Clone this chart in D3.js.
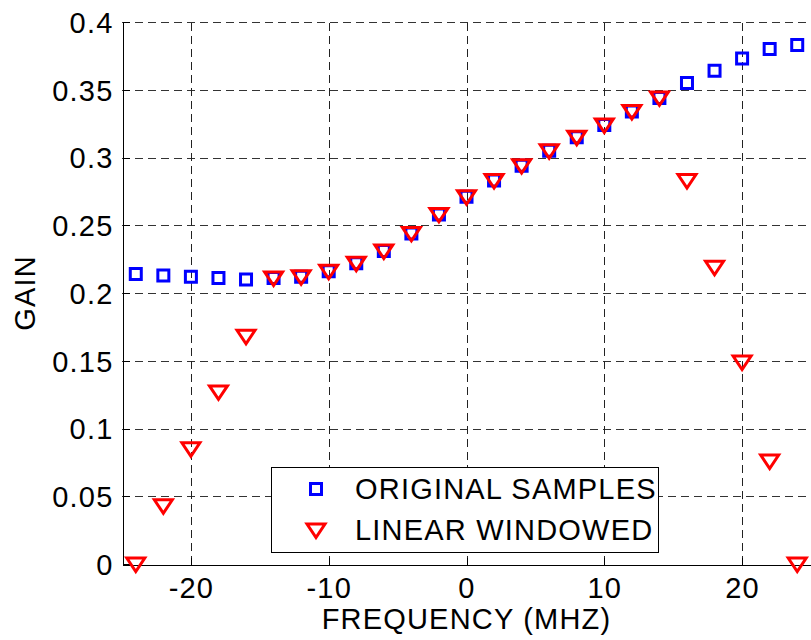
<!DOCTYPE html>
<html>
<head>
<meta charset="utf-8">
<script src="https://cdn.jsdelivr.net/npm/d3@7"></script>
<style>
  body { margin: 0; background: #fff; }
  svg { display: block; }
  text { font-family: "Liberation Sans", Arial, sans-serif; fill: #000; letter-spacing: 1.2px; }
</style>
</head>
<body>
<div id="chart"></div>
<script>
var width = 811, height = 640;
var margin = {top: 22, right: 0, bottom: 76, left: 122};

// frequency samples (MHz)
var freq = [-24, -22, -20, -18, -16, -14, -12, -10, -8, -6, -4, -2, 0,
            2, 4, 6, 8, 10, 12, 14, 16, 18, 20, 22, 24];
// original samples gain
var original = [0.214, 0.213, 0.212, 0.211, 0.210, 0.211, 0.212, 0.216, 0.222, 0.231, 0.244, 0.258, 0.271,
                 0.283, 0.294, 0.305, 0.315, 0.324, 0.334, 0.344, 0.355, 0.364, 0.373, 0.380, 0.383];
// linear windowed gain
var windowed = [0.000, 0.043, 0.085, 0.127, 0.168, 0.211, 0.212, 0.216, 0.222, 0.231, 0.244, 0.258, 0.271,
                0.283, 0.294, 0.305, 0.315, 0.324, 0.334, 0.344, 0.283, 0.219, 0.149, 0.076, 0.000];
var xTicks = [-20, -10, 0, 10, 20];
var yTicks = [0, 0.05, 0.1, 0.15, 0.2, 0.25, 0.3, 0.35, 0.4];
var legendNames = ['ORIGINAL SAMPLES', 'LINEAR WINDOWED'];

var svg = d3.select('#chart').append('svg')
    .attr('width', width)
    .attr('height', height);

var x = d3.scaleLinear().domain([-25, 25]).range([margin.left, width - margin.right]);
var y = d3.scaleLinear().domain([0, 0.4]).range([height - margin.bottom, margin.top]);

// plain hyphen minus like matlab
var fmt = function(d) { return d3.format('~g')(d).replace('\u2212', '-'); };

// grid lines
var grid = svg.append('g').attr('shape-rendering', 'crispEdges');
grid.selectAll('.hgrid')
    .data(yTicks.filter(function(d) { return d > 0; }))
    .enter().append('line')
      .attr('x1', x(-25)).attr('x2', x(25))
      .attr('y1', function(d) { return Math.round(y(d)) + 0.5; })
      .attr('y2', function(d) { return Math.round(y(d)) + 0.5; })
      .attr('stroke', '#333')
      .attr('stroke-dasharray', '8,5');
grid.selectAll('.vgrid')
    .data(xTicks)
    .enter().append('line')
      .attr('x1', function(d) { return Math.round(x(d)) + 0.5; })
      .attr('x2', function(d) { return Math.round(x(d)) + 0.5; })
      .attr('y1', y(0)).attr('y2', y(0.4))
      .attr('stroke', '#222')
      .attr('stroke-dasharray', '8,5');

// axes (ticks inside, matlab style)
var xAxis = svg.append('g')
    .attr('transform', 'translate(0,' + (Math.round(y(0)) + 0.5) + ')')
    .call(d3.axisBottom(x).tickValues(xTicks).tickSizeInner(-7).tickSizeOuter(0).tickFormat(fmt));
var yAxis = svg.append('g')
    .attr('transform', 'translate(' + (Math.round(x(-25)) + 0.5) + ',0)')
    .call(d3.axisLeft(y).tickValues(yTicks).tickSizeInner(-7).tickSizeOuter(0).tickPadding(9).tickFormat(fmt));

[xAxis, yAxis].forEach(function(a) {
  a.attr('shape-rendering', 'crispEdges');
  a.select('.domain').attr('stroke', '#000');
  a.selectAll('.tick line').attr('stroke', '#000');
  a.selectAll('.tick text')
    .style('font-family', '"Liberation Sans", Arial, sans-serif')
    .style('font-size', '29px')
    .attr('fill', '#000');
});
xAxis.selectAll('.tick text').attr('y', 33).attr('dy', 0);
yAxis.selectAll('.tick text').attr('dy', '0.36em');

var squarePath = 'M-5.5,-5.5H5.5V5.5H-5.5Z';
var triPath = 'M-9,-6L9,-6L0,7.5Z';

// original samples
svg.append('g').selectAll('path')
    .data(freq)
    .enter().append('path')
      .attr('d', squarePath)
      .attr('transform', function(d, i) { return 'translate(' + x(d) + ',' + y(original[i]) + ')'; })
      .attr('fill', 'none')
      .attr('stroke', '#0000ff')
      .attr('stroke-width', 3);

// linear windowed
svg.append('g').selectAll('path')
    .data(freq)
    .enter().append('path')
      .attr('d', triPath)
      .attr('transform', function(d, i) { return 'translate(' + x(d) + ',' + y(windowed[i]) + ')'; })
      .attr('fill', 'none')
      .attr('stroke', '#ff0000')
      .attr('stroke-width', 3)
      .attr('stroke-linejoin', 'miter');

// legend
var legend = svg.append('g').attr('transform', 'translate(271,467)');
legend.append('rect')
    .attr('x', 0.5).attr('y', 0.5)
    .attr('width', 387).attr('height', 85)
    .attr('fill', '#fff')
    .attr('stroke', '#000')
    .attr('shape-rendering', 'crispEdges');
legend.append('path')
    .attr('d', squarePath)
    .attr('transform', 'translate(45,22)')
    .attr('fill', 'none').attr('stroke', '#0000ff').attr('stroke-width', 3);
legend.append('path')
    .attr('d', triPath)
    .attr('transform', 'translate(45,63)')
    .attr('fill', 'none').attr('stroke', '#ff0000').attr('stroke-width', 3);
legend.selectAll('.ltext')
    .data(legendNames)
    .enter().append('text')
      .attr('x', 84)
      .attr('y', function(d, i) { return 22 + i * 41; })
      .attr('dy', '0.36em')
      .style('font-size', '29px')
      .text(function(d) { return d; });

// axis labels
svg.append('text')
    .attr('x', x(0))
    .attr('y', 629)
    .attr('text-anchor', 'middle')
    .style('font-size', '29px')
    .text('FREQUENCY (MHZ)');

svg.append('text')
    .attr('transform', 'translate(35,' + y(0.2) + ') rotate(-90)')
    .attr('text-anchor', 'middle')
    .style('font-size', '29px')
    .text('GAIN');
</script>
</body>
</html>
